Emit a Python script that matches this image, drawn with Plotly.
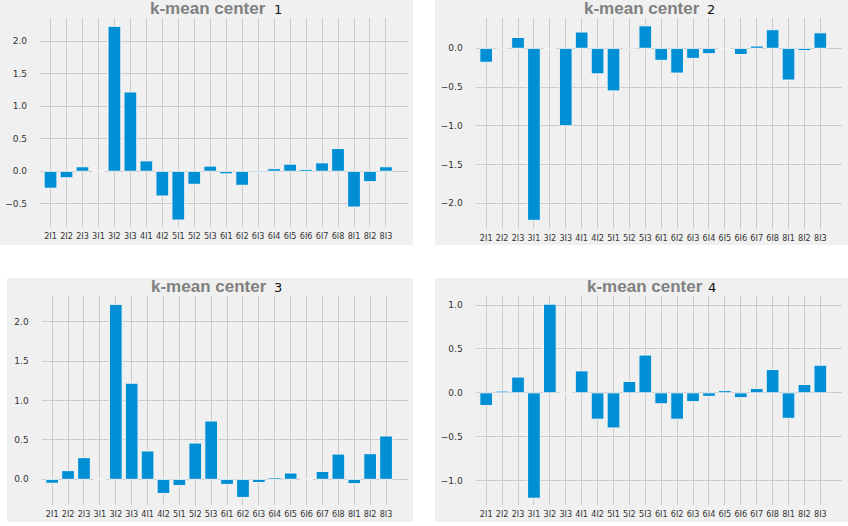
import plotly.graph_objects as go

W, H = 848, 526

categories = ["2I1", "2I2", "2I3", "3I1", "3I2", "3I3", "4I1", "4I2", "5I1", "5I2", "5I3",
              "6I1", "6I2", "6I3", "6I4", "6I5", "6I6", "6I7", "6I8", "8I1", "8I2", "8I3"]

center_1 = [-0.26, -0.10, 0.07, 0.0, 2.23, 1.22, 0.16, -0.38, -0.75, -0.20, 0.08,
            -0.04, -0.215, -0.02, 0.04, 0.11, 0.03, 0.13, 0.35, -0.55, -0.16, 0.07]
center_2 = [-0.18, -0.01, 0.14, -2.22, 0.0, -1.00, 0.21, -0.33, -0.55, -0.01, 0.29,
            -0.155, -0.32, -0.13, -0.07, 0.0, -0.08, 0.03, 0.24, -0.41, -0.03, 0.20]
center_3 = [-0.05, 0.11, 0.275, 0.0, 2.22, 1.22, 0.36, -0.18, -0.08, 0.46, 0.74,
            -0.065, -0.23, -0.04, 0.02, 0.08, 0.0, 0.10, 0.32, -0.055, 0.325, 0.55]
center_4 = [-0.145, 0.02, 0.18, -1.20, 1.01, 0.0, 0.25, -0.30, -0.40, 0.13, 0.43,
            -0.125, -0.30, -0.10, -0.04, 0.025, -0.055, 0.05, 0.265, -0.29, 0.095, 0.315]

title_main = "k-mean center"
title_nums = ["1", "2", "3", "4"]

BAR = "#008fd5"
BG = "#f0f0f0"
GRID = "#cbcbcb"

panels = [
    dict(vals=center_1, bg=(0, 413, 0, 245), plot=(40, 408, 18, 227), yr=[-0.857, 2.358],
         tx=207.5, nx=278, ty=8.5),
    dict(vals=center_2, bg=(435, 848, 0, 245), plot=(475.7, 842.3, 18, 229), yr=[-2.332, 0.391],
         tx=641.5, nx=711, ty=8.5),
    dict(vals=center_3, bg=(7, 413, 278, 522), plot=(41.7, 408, 295.7, 505), yr=[-0.326, 2.33],
         tx=209, nx=278, ty=286.5),
    dict(vals=center_4, bg=(435, 848, 278, 522), plot=(475.7, 842.3, 295.7, 505), yr=[-1.277, 1.106],
         tx=645, nx=712, ty=286.5),
]

fig = go.Figure()
shapes = []
annotations = []
layout_axes = {}

for i, p in enumerate(panels, start=1):
    xa = "x" if i == 1 else f"x{i}"
    ya = "y" if i == 1 else f"y{i}"
    fig.add_trace(go.Bar(
        x=categories, y=p["vals"], xaxis=xa, yaxis=ya,
        marker=dict(color=BAR, line=dict(color="#f4f4f4", width=1)),
        width=0.8, showlegend=False,
    ))
    bx0, bx1, by0, by1 = p["bg"]
    shapes.append(dict(type="rect", xref="paper", yref="paper", layer="below",
                       x0=bx0 / W, x1=bx1 / W, y0=1 - by1 / H, y1=1 - by0 / H,
                       fillcolor=BG, line=dict(width=0)))
    px0, px1, pt, pb = p["plot"]
    xkey = "xaxis" if i == 1 else f"xaxis{i}"
    ykey = "yaxis" if i == 1 else f"yaxis{i}"
    layout_axes[xkey] = dict(
        domain=[px0 / W, px1 / W], anchor=ya, type="category", automargin=False,
        range=[-0.66, 22.38], showgrid=True, gridcolor=GRID, gridwidth=1,
        showline=False, zeroline=False, ticks="", ticklabelstandoff=2,
        tickfont=dict(family="Liberation Sans Narrow, DejaVu Sans Condensed, Roboto", size=9, color="#333333"),
        tickangle=0, fixedrange=True,
    )
    layout_axes[ykey] = dict(
        domain=[1 - pb / H, 1 - pt / H], anchor=xa, range=p["yr"], automargin=False,
        dtick=0.5, tick0=0, tickformat=".1f", showgrid=True, gridcolor=GRID, gridwidth=1,
        showline=False, zeroline=False, ticks="", ticklabelstandoff=12,
        tickfont=dict(family="DejaVu Sans", size=9, color="#333333"), fixedrange=True,
    )
    annotations.append(dict(text=f"<b>{title_main}</b>", xref="paper", yref="paper",
                            x=p["tx"] / W, y=1 - p["ty"] / H, xanchor="center", yanchor="middle",
                            showarrow=False,
                            font=dict(family="Liberation Sans", size=17, color="#808080")))
    annotations.append(dict(text=title_nums[i - 1], xref="paper", yref="paper",
                            x=p["nx"] / W, y=1 - (p["ty"] + 1) / H, xanchor="center", yanchor="middle",
                            showarrow=False,
                            font=dict(family="DejaVu Sans", size=13, color="#111111")))

fig.update_layout(
    width=W, height=H, margin=dict(l=0, r=0, t=0, b=0),
    paper_bgcolor="white", plot_bgcolor=BG,
    shapes=shapes, annotations=annotations, bargap=0.2,
    **layout_axes,
)

fig.write_html("out.html", config={"displayModeBar": False},
               post_script="document.body.style.margin='0';document.body.style.overflow='hidden';")
